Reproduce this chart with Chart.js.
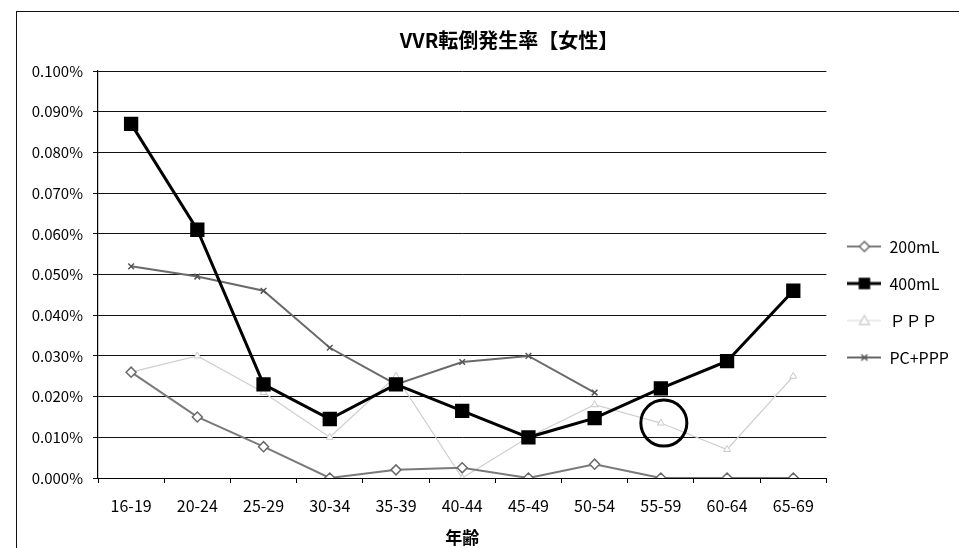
<!DOCTYPE html>
<html>
<head>
<meta charset="utf-8">
<script src="https://cdn.jsdelivr.net/npm/chart.js@4.4.1/dist/chart.umd.min.js"></script>
<style>
  html, body { margin: 0; padding: 0; background: #fff; overflow: hidden; }
  #wrap { position: relative; width: 959px; height: 548px; }
  #frame { position: absolute; left: 16px; top: 11px; width: 1000px; height: 600px;
           border-left: 1.5px solid #111; border-top: 1.5px solid #111; pointer-events: none; }
  canvas { position: absolute; left: 0; top: 0; }
</style>
</head>
<body>
<div id="wrap">
  <canvas id="c" width="959" height="548"></canvas>
  <div id="frame"></div>
</div>
<script>
// ---- data (values in percent) ----
const categories = ['16-19','20-24','25-29','30-34','35-39','40-44','45-49','50-54','55-59','60-64','65-69'];
const seriesNames = ['200mL', '400mL', 'ＰＰＰ', 'PC+PPP'];
const v200mL  = [0.026, 0.015, 0.0077, 0.000, 0.002, 0.0025, 0.000, 0.0034, 0.000, 0.000, 0.000];
const v400mL  = [0.087, 0.061, 0.023, 0.0145, 0.023, 0.0165, 0.010, 0.0147, 0.022, 0.0287, 0.046];
const vPPP    = [0.026, 0.030, 0.021, 0.010, 0.025, 0.000, 0.010, 0.018, 0.0135, 0.007, 0.025];
const vPCPPP  = [0.052, 0.0495, 0.046, 0.032, 0.023, 0.0285, 0.030, 0.021, null, null, null];
const yTickMin = 0, yTickMax = 0.1, yTickStep = 0.01;
const titleText = 'VVR転倒発生率【女性】';
const xTitleText = '年齢';
const circledCategory = '55-59', circledValue = 0.0135;

const FONT = '"Noto Sans CJK JP", "Noto Sans", sans-serif';
const LEG_FONT_SIZE = 16, LEG_PAD = 21, SAMPLE_W = 34;

// legend sample images (line + marker)
function sample(color, lw, marker, mcolor, fill) {
  const c = document.createElement('canvas');
  c.width = SAMPLE_W; c.height = 16;
  const g = c.getContext('2d');
  g.strokeStyle = color; g.lineWidth = lw;
  g.beginPath(); g.moveTo(0, 8); g.lineTo(SAMPLE_W, 8); g.stroke();
  g.strokeStyle = mcolor; g.fillStyle = fill; g.lineWidth = 1.5;
  const cx = SAMPLE_W / 2, cy = 8;
  g.beginPath();
  if (marker === 'diamond') { g.moveTo(cx, cy-5); g.lineTo(cx+5, cy); g.lineTo(cx, cy+5); g.lineTo(cx-5, cy); g.closePath(); g.fill(); g.stroke(); }
  else if (marker === 'square') { g.rect(cx-5, cy-5, 10, 10); g.fill(); g.stroke(); }
  else if (marker === 'triangle') { g.moveTo(cx, cy-5); g.lineTo(cx+5, cy+4); g.lineTo(cx-5, cy+4); g.closePath(); g.fill(); g.stroke(); }
  else if (marker === 'x') { g.moveTo(cx-3, cy-3); g.lineTo(cx+3, cy+3); g.moveTo(cx+3, cy-3); g.lineTo(cx-3, cy+3); g.stroke(); }
  return c;
}
const legendImgs = [
  sample('#7a7a7a', 2, 'diamond', '#6a6a6a', '#ffffff'),
  sample('#000000', 3, 'square', '#000000', '#000000'),
  sample('#d6d6d6', 1, 'triangle', '#d0d0d0', '#ffffff'),
  sample('#666666', 2, 'x', '#555555', '#555555')
];

// size the right padding so that the plot area ends near x=828
const mctx = document.createElement('canvas').getContext('2d');
mctx.font = LEG_FONT_SIZE + 'px ' + FONT;
const maxTextW = Math.max(...seriesNames.map(t => mctx.measureText(t).width));
const legendW = LEG_PAD + SAMPLE_W + LEG_FONT_SIZE / 2 + maxTextW;
const padRight = Math.max(0, 959 - 828 - legendW - 9);

const shiftPlugin = {
  id: 'shift',
  afterLayout(chart) {
    const t = chart.titleBlock;
    if (t) { const dx = 509 - (t.left + t.right) / 2; t.left += dx; t.right += dx; }
    const l = chart.legend;
    if (l) { l.top += 28; l.bottom += 28; }
  }
};
const circlePlugin = {
  id: 'circle',
  afterDatasetsDraw(chart) {
    const x = chart.scales.x.getPixelForValue(categories.indexOf(circledCategory));
    const y = chart.scales.y.getPixelForValue(circledValue);
    const ctx = chart.ctx;
    ctx.save();
    ctx.beginPath(); ctx.arc(x + 3, y, 23, 0, Math.PI * 2);
    ctx.lineWidth = 3; ctx.strokeStyle = '#000'; ctx.stroke();
    ctx.restore();
  }
};

new Chart(document.getElementById('c'), {
  type: 'line',
  data: {
    labels: categories,
    datasets: [
      { label: seriesNames[0], data: v200mL, order: 1, borderColor: '#7a7a7a', borderWidth: 2,
        pointStyle: 'rectRot', pointRadius: 5, pointBackgroundColor: '#fff', pointBorderColor: '#6a6a6a', pointBorderWidth: 1.5 },
      { label: seriesNames[1], data: v400mL, order: 0, borderColor: '#000', borderWidth: 3,
        pointStyle: 'rect', pointRadius: 8, pointBackgroundColor: '#000', pointBorderColor: '#000' },
      { label: seriesNames[2], data: vPPP, order: 3, borderColor: '#cfcfcf', borderWidth: 1.2,
        pointStyle: 'triangle', pointRadius: 4, pointBackgroundColor: '#fff', pointBorderColor: '#c8c8c8', pointBorderWidth: 1 },
      { label: seriesNames[3], data: vPCPPP, order: 2, borderColor: '#6a6a6a', borderWidth: 2,
        pointStyle: 'crossRot', pointRadius: 4, pointBorderColor: '#555', pointBorderWidth: 1.5 }
    ]
  },
  options: {
    responsive: false,
    animation: false,
    devicePixelRatio: 1,
    spanGaps: false,
    layout: { padding: { left: 20, right: padRight, top: 0, bottom: 0 } },
    plugins: {
      title: { display: true, text: titleText, color: '#000',
               font: { family: FONT, size: 20, weight: 'bold' }, padding: { top: 28, bottom: 19 } },
      legend: {
        position: 'right',
        labels: {
          color: '#000', font: { family: FONT, size: LEG_FONT_SIZE },
          padding: LEG_PAD, usePointStyle: true, pointStyleWidth: SAMPLE_W, boxHeight: 16,
          sort: (a, b) => a.datasetIndex - b.datasetIndex,
          generateLabels(chart) {
            const items = Chart.defaults.plugins.legend.labels.generateLabels(chart);
            items.forEach(it => { it.pointStyle = legendImgs[it.datasetIndex]; });
            return items;
          }
        }
      },
      tooltip: { enabled: false }
    },
    scales: {
      x: {
        offset: true,
        afterFit(s) { s.height = 70; },
        grid: { display: true, offset: true, drawOnChartArea: false, drawTicks: true, tickLength: 5, color: '#000' },
        border: { display: true, color: '#000', width: 1 },
        ticks: { color: '#000', font: { family: FONT, size: 16 }, padding: 13, maxRotation: 0, autoSkip: false },
        title: { display: true, text: xTitleText, color: '#000',
                 font: { family: FONT, size: 17, weight: 'bold' }, padding: { top: 8, bottom: 0 } }
      },
      y: {
        min: yTickMin, max: yTickMax,
        afterFit(s) { s.width = 78; },
        grid: { color: '#111', lineWidth: 1, drawTicks: true, tickLength: 5 },
        border: { display: true, color: '#000', width: 1.2 },
        ticks: { stepSize: yTickStep, color: '#000', font: { family: FONT, size: 15 }, padding: 10,
                 callback: v => v.toFixed(3) + '%' }
      }
    }
  },
  plugins: [shiftPlugin, circlePlugin]
});
</script>
</body>
</html>
